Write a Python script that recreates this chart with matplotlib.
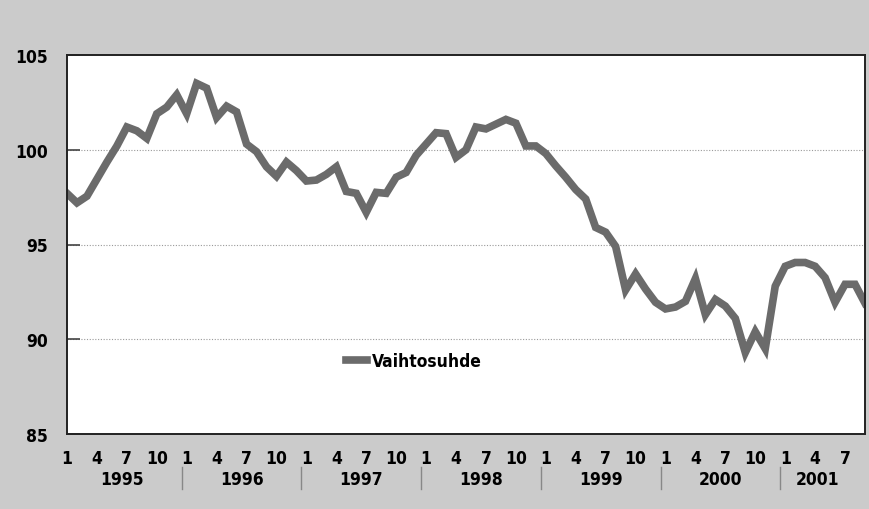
import numpy as np
import matplotlib
matplotlib.use("Agg")
import matplotlib.pyplot as plt
import matplotlib.transforms as mtransforms

# monthly index, Jan 1995 .. Sep 2001
vaihtosuhde = [
    97.7, 97.2, 97.55, 98.45, 99.35, 100.2, 101.2, 101.0, 100.6, 101.9, 102.25, 102.9,   # 1995
    101.9, 103.5, 103.25, 101.7, 102.3, 102.0, 100.3, 99.9, 99.1, 98.6, 99.35, 98.9,     # 1996
    98.35, 98.4, 98.7, 99.1, 97.8, 97.7, 96.7, 97.75, 97.7, 98.55, 98.8, 99.7,          # 1997
    100.3, 100.9, 100.85, 99.6, 100.0, 101.2, 101.1, 101.35, 101.6, 101.4, 100.2, 100.2, # 1998
    99.8, 99.15, 98.55, 97.9, 97.4, 95.9, 95.65, 94.9, 92.6, 93.45, 92.65, 91.95,        # 1999
    91.6, 91.7, 92.0, 93.2, 91.3, 92.1, 91.75, 91.1, 89.3, 90.4, 89.5, 92.8,             # 2000
    93.85, 94.05, 94.05, 93.85, 93.25, 91.95, 92.9, 92.9, 91.9,                          # 2001
]
years = ["1995", "1996", "1997", "1998", "1999", "2000", "2001"]
month_labels = ["1", "4", "7", "10"]
y_ticks = [85, 90, 95, 100, 105]

fkw = dict(family="DejaVu Sans", fontstretch="condensed", fontweight="bold", fontsize=12.5)

fig = plt.figure(figsize=(8.7, 5.1), dpi=100, facecolor="#cbcbcb")
ax = fig.add_axes([67/870, 1-435/510, 798/870, 379/510])
ax.set_facecolor("white")

n = len(vaihtosuhde)
x = np.arange(n)
ax.plot(x, vaihtosuhde, color="#6b6b6b", lw=5.5, solid_joinstyle="miter",
        label="Vaihtosuhde")

ax.set_xlim(0, n - 1)
ax.set_ylim(85, 105)

for v in [90, 95, 100]:
    ax.axhline(v, color="#9a9a9a", lw=0.8, ls=(0, (1, 1.5)), zorder=0)

ax.set_yticks(y_ticks)
ax.set_yticklabels([str(v) for v in y_ticks], **fkw)
ax.tick_params(axis="y", direction="in", length=9, width=1.2, color="#444444", pad=14)

# month ticks: 1, 4, 7, 10 for each year
pos = [i for i in range(n) if i % 3 == 0]
labs = [month_labels[(i % 12) // 3] for i in pos]
ax.set_xticks(pos)
ax.set_xticklabels(labs, **fkw)
ax.tick_params(axis="x", length=0, pad=11)

trans = mtransforms.blended_transform_factory(ax.transData, ax.transAxes)
for k, yr in enumerate(years):
    start = k * 12
    end = min(start + 11.5, n - 2)
    ax.text((start - 0.5 + end) / 2, -0.12, yr, transform=trans,
            ha="center", va="center", **fkw)
    if k > 0:
        ax.plot([start - 0.5, start - 0.5], [-0.088, -0.145], transform=trans,
                color="#888888", lw=1, clip_on=False)

for s in ax.spines.values():
    s.set_color("#222222")
    s.set_linewidth(1.4)

ax.legend(loc="center left", bbox_to_anchor=(0.33, 0.193), frameon=False,
          handlelength=1.2, handletextpad=0.3,
          prop={"family": "DejaVu Sans", "stretch": "condensed",
                "weight": "bold", "size": 12.5})

fig.savefig("out.png", dpi=100, facecolor=fig.get_facecolor())
